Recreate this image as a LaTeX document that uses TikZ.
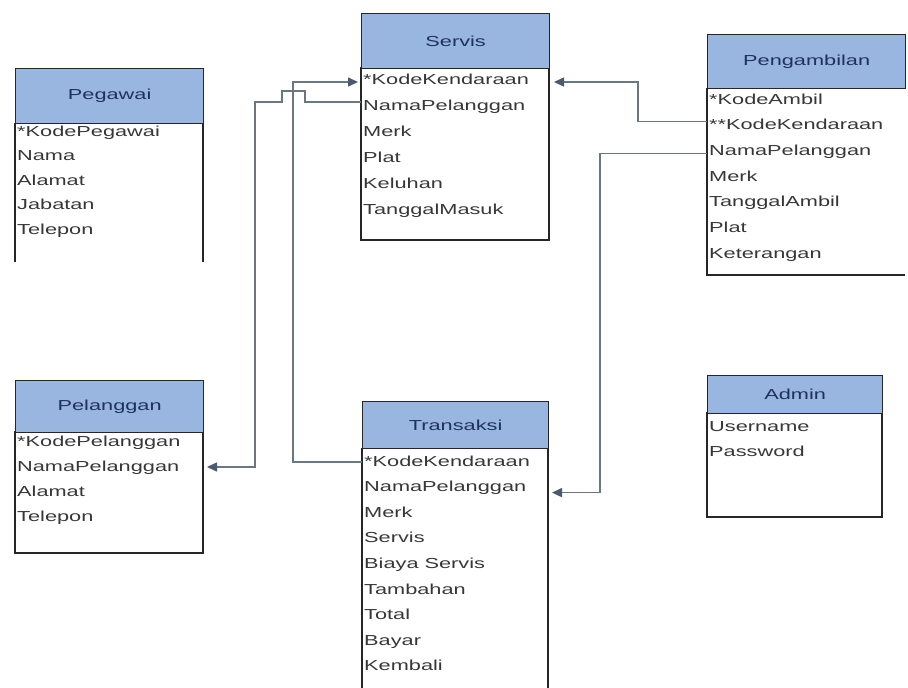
\documentclass[tikz,border=0pt]{standalone}
\usepackage{fontspec}
\setmainfont{Liberation Sans}
\newfontfamily\erfont[FakeStretch=1.5]{Liberation Sans}
\usetikzlibrary{arrows.meta,calc}
\definecolor{hdrfill}{RGB}{152,182,224}
\definecolor{hdrtext}{RGB}{30,50,95}
\definecolor{attrtext}{RGB}{55,55,55}
\definecolor{connc}{RGB}{105,118,132}
\definecolor{tipc}{RGB}{75,90,110}
\tikzset{
  hdr/.style={draw=black!85, line width=1.3pt, fill=hdrfill, anchor=north west, inner sep=0pt,
    font=\erfont\fontsize{14.5}{16}\selectfont, text=hdrtext},
  body/.style={anchor=north west, inner sep=0pt, outer sep=0pt},
  bodybox/.style={body, draw=black!85, line width=1.3pt},
  boxline/.style={draw=black!85, line width=1.3pt},
  attr/.style={anchor=west, inner sep=0pt, text height=11pt, text depth=3pt,
    font=\erfont\fontsize{14.5}{16}\selectfont, text=attrtext},
  conn/.style={draw=connc, line width=1.5pt},
  arr/.style={conn, -{Triangle[length=10pt,width=9pt,fill=tipc,color=tipc]}}
}
\begin{document}
\begin{tikzpicture}[x=1pt,y=-1pt]
\useasboundingbox (0,0) rectangle (908,688);

% ---------- Pegawai (open bottom) ----------
\node[body, minimum width=188pt, minimum height=139pt] (bPeg) at (15,123) {};
\draw[boxline] (bPeg.north west) -- (bPeg.south west);
\draw[boxline] (bPeg.north east) -- (bPeg.south east);
\node[hdr, minimum width=188pt, minimum height=55pt] (hPeg) at (15,68) {Pegawai};
\foreach \t [count=\i] in {*KodePegawai,Nama,Alamat,Jabatan,Telepon}
  \node[attr] (peg\i) at ({17},{132+24.5*(\i-1)}) {\t};

% ---------- Servis ----------
\node[bodybox, minimum width=188pt, minimum height=172pt] (bSer) at (361,68) {};
\node[hdr, minimum width=188pt, minimum height=55pt] (hSer) at (361,13) {Servis};
\foreach \t [count=\i] in {*KodeKendaraan,NamaPelanggan,Merk,Plat,Keluhan,TanggalMasuk}
  \node[attr] (ser\i) at ({363},{80+26*(\i-1)}) {\t};

% ---------- Pengambilan (cut at right edge) ----------
\node[body, minimum width=198pt, minimum height=187pt] (bPen) at (707,88) {};
\draw[boxline] (bPen.north west) -- (bPen.south west) -- (bPen.south east);
\node[hdr, minimum width=198pt, minimum height=54pt] (hPen) at (707,34) {Pengambilan};
\foreach \t [count=\i] in {*KodeAmbil,**KodeKendaraan,NamaPelanggan,Merk,TanggalAmbil,Plat,Keterangan}
  \node[attr] (pen\i) at ({709},{100+25.7*(\i-1)}) {\t};

% ---------- Pelanggan ----------
\node[bodybox, minimum width=188pt, minimum height=121pt] (bPel) at (15,432) {};
\node[hdr, minimum width=188pt, minimum height=52pt] (hPel) at (15,380) {Pelanggan};
\foreach \t [count=\i] in {*KodePelanggan,NamaPelanggan,Alamat,Telepon}
  \node[attr] (pel\i) at ({17},{442+25*(\i-1)}) {\t};

% ---------- Transaksi (open bottom) ----------
\node[body, minimum width=186pt, minimum height=240pt] (bTra) at (362,448) {};
\draw[boxline] (bTra.north west) -- (bTra.south west);
\draw[boxline] (bTra.north east) -- (bTra.south east);
\node[hdr, minimum width=186pt, minimum height=47pt] (hTra) at (362,401) {Transaksi};
\foreach \t [count=\i] in {*KodeKendaraan,NamaPelanggan,Merk,Servis,Biaya Servis,Tambahan,Total,Bayar,Kembali}
  \node[attr] (tra\i) at ({364},{462+25.6*(\i-1)}) {\t};

% ---------- Admin ----------
\node[bodybox, minimum width=175pt, minimum height=104pt] (bAdm) at (707,413) {};
\node[hdr, minimum width=175pt, minimum height=38pt] (hAdm) at (707,375) {Admin};
\foreach \t [count=\i] in {Username,Password}
  \node[attr] (adm\i) at ({709},{427+25*(\i-1)}) {\t};

% ---------- Connectors ----------
% Pengambilan.KodeKendaraan -> Servis.KodeKendaraan
\draw[arr, shorten >=5pt] ([yshift=4pt]pen2.west -| bPen.west) -- ++(-69,0)
  |- ([yshift=-2pt]ser1.west -| bSer.east);
% Pengambilan.NamaPelanggan -> Transaksi.NamaPelanggan
\draw[arr, shorten >=4pt] ([yshift=-2pt]pen3.west -| bPen.west) -- ++(-107,0)
  |- ([yshift=-5pt]tra2.west -| bTra.east);
% Transaksi.KodeKendaraan -> Servis.KodeKendaraan
\draw[arr, shorten >=3pt] (tra1.west -| bTra.west) -- ++(-69,0)
  |- ([yshift=-2pt]ser1.west -| bSer.west);
% Servis.NamaPelanggan -> Pelanggan.NamaPelanggan (with line jump)
\draw[arr, shorten >=4pt] ([yshift=4pt]ser2.west -| bSer.west) -- ++(-56,0) -- ++(0,-11)
  -- ++(-23,0) -- ++(0,11) -- ++(-27,0) |- (pel2.west -| bPel.east);
\end{tikzpicture}
\end{document}
